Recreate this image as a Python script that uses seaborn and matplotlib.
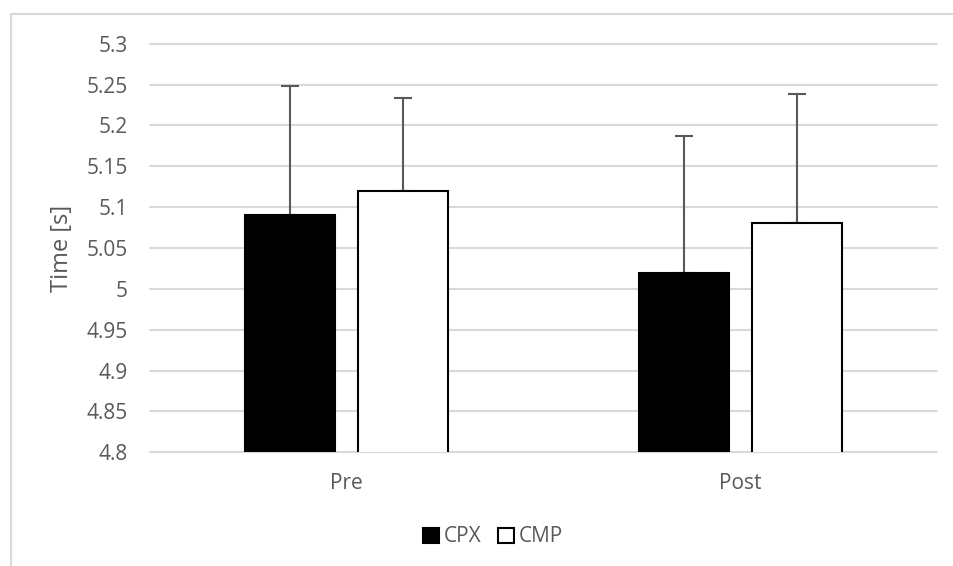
import pandas as pd
import matplotlib
matplotlib.use("Agg")
import matplotlib.pyplot as plt
from matplotlib.lines import Line2D
from matplotlib.patches import Patch
import seaborn as sns

# values
phases = ["Pre", "Post"]
groups = ["CPX", "CMP"]
cpx_mean = [5.09, 5.02]
cmp_mean = [5.12, 5.08]
cpx_sd = [0.158, 0.167]
cmp_sd = [0.113, 0.159]
y_ticks = [4.8, 4.85, 4.9, 4.95, 5.0, 5.05, 5.1, 5.15, 5.2, 5.25, 5.3]
y_tick_labels = ["4.8", "4.85", "4.9", "4.95", "5", "5.05", "5.1", "5.15", "5.2", "5.25", "5.3"]

df = pd.DataFrame({
    "phase": phases * 2,
    "group": [groups[0]] * 2 + [groups[1]] * 2,
    "mean": cpx_mean + cmp_mean,
    "sd": cpx_sd + cmp_sd,
})

TEXT = "#595959"
GRID = "#d9d9d9"

sns.set_style("white")
plt.rcParams["font.family"] = ["Open Sans", "DejaVu Sans"]

fig = plt.figure(figsize=(9.54, 5.66), dpi=100)
ax = fig.add_axes([150 / 954, 1 - 452.3 / 566, (937 - 150) / 954, (452.3 - 43.7) / 566])

sns.barplot(data=df, x="phase", y="mean", hue="group", order=phases, hue_order=groups,
            palette=["black", "white"], edgecolor="black", linewidth=1.5,
            width=0.572, gap=0.2, errorbar=None, legend=False, zorder=3, ax=ax)

# upper error bars only, drawn from the bar tops
for container, g in zip(ax.containers, groups):
    sub = df[df["group"] == g].set_index("phase").loc[phases]
    xs = [p.get_x() + p.get_width() / 2 for p in container.patches]
    ax.errorbar(xs, sub["mean"], yerr=[[0] * len(xs), sub["sd"]], fmt="none",
                ecolor=TEXT, elinewidth=1.5, capsize=6.5, capthick=1.5, zorder=2)

ax.set_xlim(-0.5, 1.5)
ax.set_ylim(4.8, 5.3)
ax.set_yticks(y_ticks)
ax.set_yticklabels(y_tick_labels)
ax.set_axisbelow(True)
ax.yaxis.grid(True, color=GRID, linewidth=1.5, clip_on=False)
for s in ax.spines.values():
    s.set_visible(False)
ax.tick_params(axis="both", length=0, colors=TEXT, labelsize=15)
ax.tick_params(axis="y", pad=16)
ax.tick_params(axis="x", pad=15)
ax.set_xlabel("")
ax.set_ylabel("Time [s]", color=TEXT, fontsize=17, labelpad=9)

handles = [Patch(facecolor="black", edgecolor="black", linewidth=1.5),
           Patch(facecolor="white", edgecolor="black", linewidth=1.5)]
fig.legend(handles, groups, loc="center", bbox_to_anchor=(493 / 954, 1 - 537 / 566), ncol=2,
           frameon=False, handlelength=0.75, handleheight=0.75, handletextpad=0.25,
           columnspacing=0.8, labelcolor=TEXT, fontsize=15)

# chart frame (only left and top edges fall inside the image)
fig.add_artist(Line2D([11 / 954, 11 / 954], [0, 1 - 14 / 566], color=GRID, linewidth=1.5))
fig.add_artist(Line2D([11 / 954, 1], [1 - 14 / 566, 1 - 14 / 566], color=GRID, linewidth=1.5))

fig.savefig("out.png", dpi=100)
